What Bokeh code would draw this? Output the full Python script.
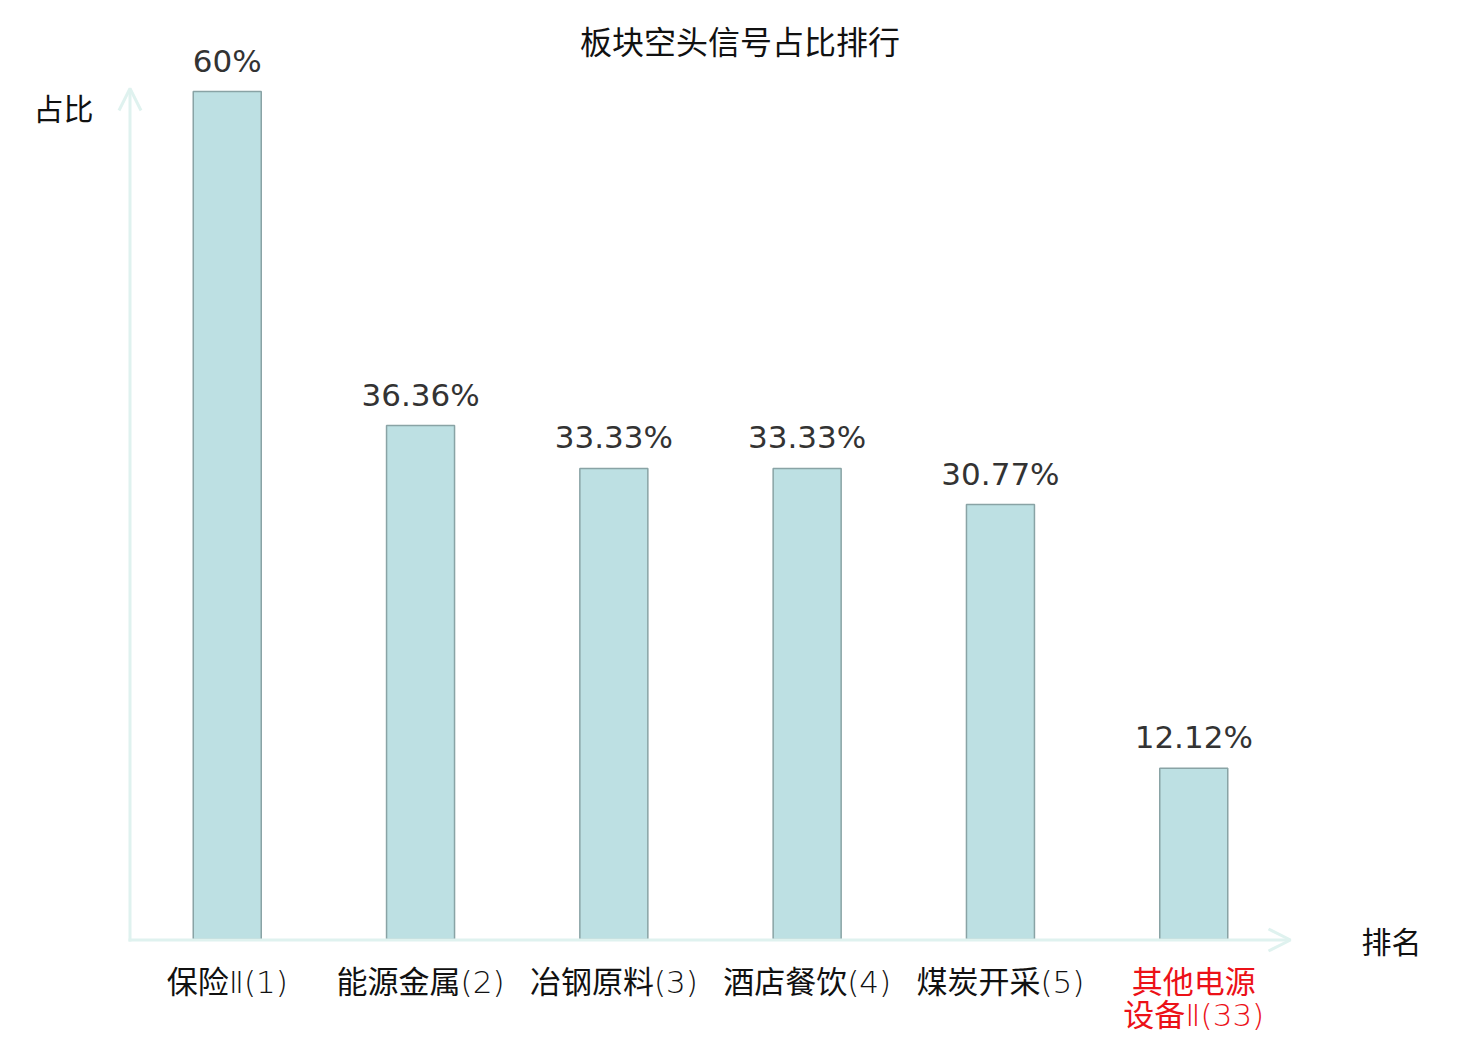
from bokeh.plotting import figure
from bokeh.models import FactorRange, Range1d, ColumnDataSource, Arrow, OpenHead, Label
from bokeh.embed import file_html
from bokeh.resources import INLINE
from bokeh.core.properties import value

# ---------------- data ----------------
title_text = "板块空头信号占比排行"
y_axis_label = "占比"
x_axis_label = "排名"
categories = ["保险Ⅱ(1)", "能源金属(2)", "冶钢原料(3)", "酒店餐饮(4)", "煤炭开采(5)", "其他电源\n设备Ⅱ(33)"]
shares = [60, 36.36, 33.33, 33.33, 30.77, 12.12]
highlight = [False, False, False, False, False, True]

# ---------------- layout helpers ----------------
W, H = 1420, 1038
pad = 0.673                   # category padding each side (in category units)
ux = W / (len(categories) + 2 * pad)
ky = 848 / 60.0               # px per percent
base = 939                    # canvas y of 0%

def dx(cx):
    return cx / ux - pad

def dy(cy):
    return (base - cy) / ky

AXIS_COLOR = "#dff2ef"
CJK = "Noto Sans CJK SC"
LABEL_FONT = "'DejaVu Sans Light', 'Noto Sans CJK SC'"

labels = [f"{v:g}%" for v in shares]
colors = ["#ec1118" if h else "#111111" for h in highlight]
src = ColumnDataSource(dict(cat=categories, share=shares, lab=labels, col=colors,
                            ly=[dy(963)] * len(categories)))

p = figure(width=W, height=H, output_backend="svg", toolbar_location=None,
           x_range=FactorRange(factors=categories, range_padding=2 * pad / len(categories),
                               range_padding_units="percent"),
           y_range=Range1d(dy(H), dy(0)),
           min_border=0)
p.axis.visible = False
p.grid.visible = False
p.outline_line_color = None
p.background_fill_color = "white"
p.border_fill_color = "white"

# axes as arrows
p.add_layout(Arrow(end=OpenHead(size=22, line_color=AXIS_COLOR, line_width=3),
                   x_start=dx(128), y_start=dy(939.5), x_end=dx(1290), y_end=dy(939.5),
                   line_color=AXIS_COLOR, line_width=3))
p.add_layout(Arrow(end=OpenHead(size=22, line_color=AXIS_COLOR, line_width=3),
                   x_start=dx(129.5), y_start=dy(941), x_end=dx(129.5), y_end=dy(88),
                   line_color=AXIS_COLOR, line_width=3))

# bars
p.vbar(x="cat", top="share", bottom=0, width=68 / ux, source=src,
       fill_color="#bde0e3", line_color="#89a3a5", line_width=1.5)

# value labels
p.text(x="cat", y="share", text="lab", source=src, y_offset=-31,
       text_align="center", text_baseline="alphabetic",
       text_font=value("DejaVu Sans"), text_font_size="31px", text_color="#333333")

# category labels
p.text(x="cat", y="ly", text="cat", source=src,
       text_align="center", text_baseline="top", text_line_height=0.92,
       text_font=value(LABEL_FONT), text_font_size="31px", text_color="col")

# title and axis names
p.add_layout(Label(x=dx(739.5), y=dy(39), text=title_text, text_align="center",
                   text_baseline="middle", text_font=CJK, text_font_size="32px",
                   text_color="#111111"))
p.add_layout(Label(x=dx(63), y=dy(106), text=y_axis_label, text_align="center",
                   text_baseline="middle", text_font=CJK, text_font_size="30px",
                   text_color="#111111"))
p.add_layout(Label(x=dx(1391), y=dy(939), text=x_axis_label, text_align="center",
                   text_baseline="middle", text_font=CJK, text_font_size="30px",
                   text_color="#111111"))

open("out.html", "w").write(file_html(p, INLINE))
